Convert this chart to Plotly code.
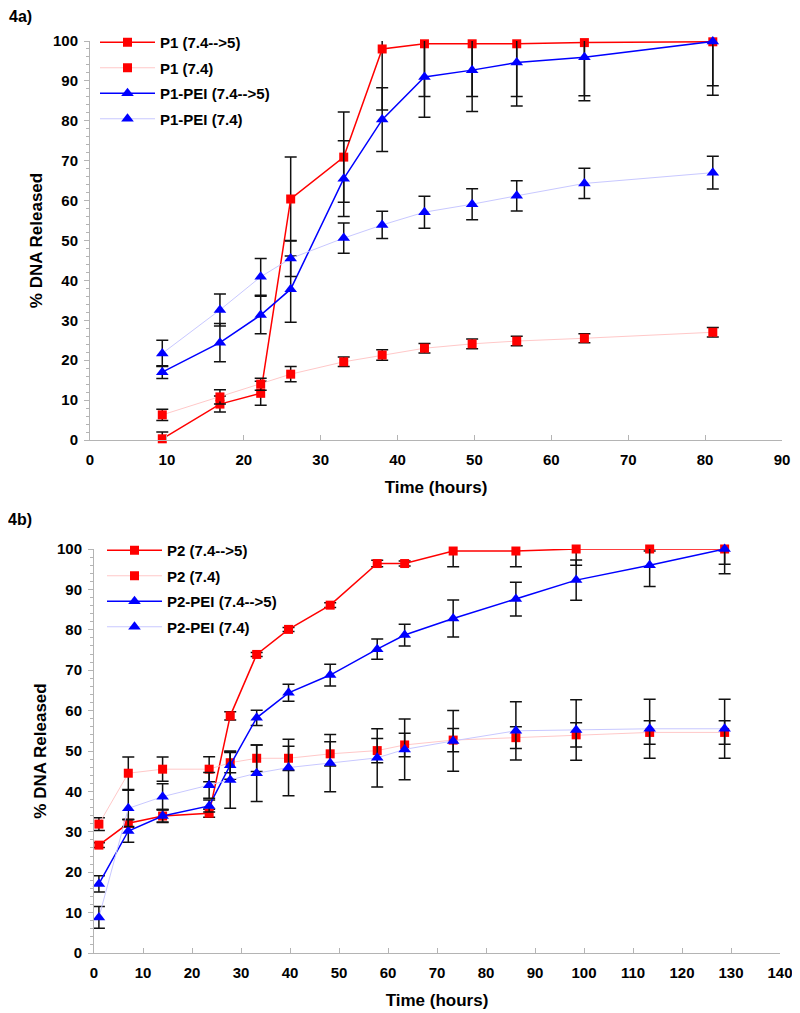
import plotly.graph_objects as go

# ---------------------------------------------------------------
# Panel 4a data
# ---------------------------------------------------------------
time_a = [9.4, 16.9, 22.2, 26.1, 33.0, 38.0, 43.5, 49.7, 55.5, 64.3, 81.0]

p1_switch = [0.3, 9.0, 11.7, 60.4, 70.9, 98.0, 99.3, 99.3, 99.3, 99.6, 99.8]
p1_switch_err = [1.7, 2.0, 3.0, 10.5, 11.3, 15.3, 13.2, 13.2, 13.2, 13.3, 11.0]
p1_const = [6.3, 10.8, 14.0, 16.5, 19.6, 21.3, 23.0, 24.1, 24.8, 25.5, 27.0]
p1_const_err = [1.4, 1.8, 1.5, 1.9, 1.2, 1.3, 1.2, 1.2, 1.2, 1.1, 1.2]
p1pei_switch = [17.0, 24.4, 31.3, 37.8, 65.5, 80.3, 91.0, 92.7, 94.6, 95.9, 99.9]
p1pei_switch_err = [1.6, 4.8, 4.7, 8.3, 9.5, 8.0, 10.1, 10.4, 10.9, 10.9, 13.5]
p1pei_const = [21.7, 32.6, 40.9, 45.5, 50.6, 53.9, 57.1, 59.1, 61.2, 64.3, 67.0]
p1pei_const_err = [3.3, 4.0, 4.6, 4.5, 3.8, 3.4, 4.0, 3.9, 3.8, 3.8, 4.1]

names_a = ["P1 (7.4-->5)", "P1 (7.4)", "P1-PEI (7.4-->5)", "P1-PEI (7.4)"]

# ---------------------------------------------------------------
# Panel 4b data
# ---------------------------------------------------------------
time_b = [1.0, 7.0, 14.0, 23.5, 27.8, 33.2, 39.7, 48.2, 57.8, 63.4,
          73.3, 86.1, 98.4, 113.4, 128.7]

p2_switch = [26.7, 32.1, 33.9, 34.6, 58.7, 73.9, 80.1, 86.1, 96.4, 96.4,
             99.5, 99.5, 100.0, 100.0, 100.0]
p2_switch_err = [0.6, 1.0, 1.6, 1.0, 1.0, 0.5, 0.5, 0.6, 0.8, 0.6,
                 3.9, 3.9, 4.0, 0.5, 3.8]
p2_const = [31.9, 44.5, 45.5, 45.5, 47.1, 48.2, 48.2, 49.3, 50.1, 51.5,
            52.7, 53.3, 54.0, 54.6, 54.6]
p2_const_err = [1.6, 4.0, 3.0, 3.1, 2.5, 3.3, 3.0, 3.0, 3.0, 2.9,
                2.9, 2.7, 3.0, 2.9, 2.9]
p2pei_switch = [17.1, 30.2, 33.9, 36.4, 46.5, 58.2, 64.4, 68.8, 75.2, 78.7,
                82.8, 87.6, 92.3, 96.0, 100.0]
p2pei_switch_err = [2.0, 2.8, 1.5, 1.5, 3.5, 1.9, 2.1, 2.7, 2.5, 2.7,
                    4.6, 4.2, 5.0, 5.3, 6.1]
p2pei_const = [8.8, 35.8, 38.7, 41.5, 42.8, 44.5, 45.9, 47.0, 48.3, 50.4,
               52.5, 55.0, 55.2, 55.5, 55.5]
p2pei_const_err = [2.7, 4.5, 3.2, 3.2, 7.0, 7.0, 7.0, 7.1, 7.2, 7.5,
                   7.5, 7.2, 7.5, 7.3, 7.3]

names_b = ["P2 (7.4-->5)", "P2 (7.4)", "P2-PEI (7.4-->5)", "P2-PEI (7.4)"]

# ---------------------------------------------------------------
# styles
# ---------------------------------------------------------------
FONT = "Liberation Sans, Arial, sans-serif"
OFF = 8  # browser body margin
W, H = 800 - OFF, 1013 - OFF


def px(v):
    return (v - OFF) / W


def py(v):
    return 1 - (v - OFF) / H


styles = [
    dict(line=dict(color="#ff0000", width=1.5), symbol="square", mcolor="#ff0000", size=9),
    dict(line=dict(color="#ffc8c8", width=1), symbol="square", mcolor="#ff0000", size=9),
    dict(line=dict(color="#0000ff", width=1.5), symbol="triangle-up", mcolor="#0000ff", size=11),
    dict(line=dict(color="#c8c8ff", width=1), symbol="triangle-up", mcolor="#0000ff", size=11),
]

fig = go.Figure()


def add_series(x, ys, errs, names, xa, ya, legend):
    for i, (y, e, n) in enumerate(zip(ys, errs, names)):
        st = styles[i]
        fig.add_trace(go.Scatter(
            x=x, y=y, name=n, mode="lines+markers",
            xaxis=xa, yaxis=ya, legend=legend, legendgroup=f"{legend}{i}",
            line=st["line"],
            marker=dict(symbol=st["symbol"], color=st["mcolor"], size=st["size"]),
            error_y=dict(type="data", array=e, visible=True, color="#111111",
                         thickness=1.5, width=6),
            cliponaxis=False,
        ))


add_series(time_a, [p1_switch, p1_const, p1pei_switch, p1pei_const],
           [p1_switch_err, p1_const_err, p1pei_switch_err, p1pei_const_err],
           names_a, "x", "y", "legend")
add_series(time_b, [p2_switch, p2_const, p2pei_switch, p2pei_const],
           [p2_switch_err, p2_const_err, p2pei_switch_err, p2pei_const_err],
           names_b, "x2", "y2", "legend2")

tickfont = dict(family=FONT, size=15, color="black", weight="bold")
titlefont = dict(family=FONT, size=17, color="black", weight="bold")
AX = "#b4b4b4"


def xaxis(dom, rng, anchor):
    return dict(domain=dom, range=rng, anchor=anchor, dtick=10, showgrid=False,
                zeroline=False, showline=True, linecolor=AX, linewidth=1,
                ticks="inside", ticklen=5, tickcolor=AX, tickfont=tickfont,
                ticklabelstandoff=6, automargin=False,
                title=dict(text="Time (hours)", font=titlefont, standoff=14))


def yaxis(dom, anchor):
    return dict(domain=dom, range=[0, 100], anchor=anchor, dtick=10, showgrid=False,
                zeroline=False, showline=True, linecolor=AX, linewidth=1,
                ticks="outside", ticklen=5, tickcolor=AX, tickfont=tickfont,
                minor=dict(dtick=2, ticks="outside", ticklen=3, tickcolor=AX),
                ticklabelstandoff=3, automargin=False,
                title=dict(text="% DNA Released", font=titlefont, standoff=6))


legend_common = dict(font=dict(family=FONT, size=15, color="black", weight="bold"),
                     bgcolor="rgba(0,0,0,0)", itemwidth=55, tracegroupgap=3,
                     xanchor="left", yanchor="top", itemclick=False)

fig.update_layout(
    width=W, height=H,
    margin=dict(l=0, r=0, t=0, b=0),
    paper_bgcolor="white", plot_bgcolor="white",
    xaxis=xaxis([px(90), px(782)], [0, 90], "y"),
    yaxis=yaxis([py(440), py(41)], "x"),
    xaxis2=xaxis([px(94), px(780)], [0, 140], "y2"),
    yaxis2=yaxis([py(953), py(549)], "x2"),
    legend=dict(x=px(95), y=py(26), **legend_common),
    legend2=dict(x=px(102), y=py(534), **legend_common),
    annotations=[
        dict(text="4a)", x=px(7), y=py(17), xref="paper", yref="paper",
             xanchor="left", yanchor="middle", showarrow=False,
             font=dict(family=FONT, size=16, color="black", weight="bold")),
        dict(text="4b)", x=px(6), y=py(520), xref="paper", yref="paper",
             xanchor="left", yanchor="middle", showarrow=False,
             font=dict(family=FONT, size=16, color="black", weight="bold")),
    ],
)

fig.write_html("out.html")
